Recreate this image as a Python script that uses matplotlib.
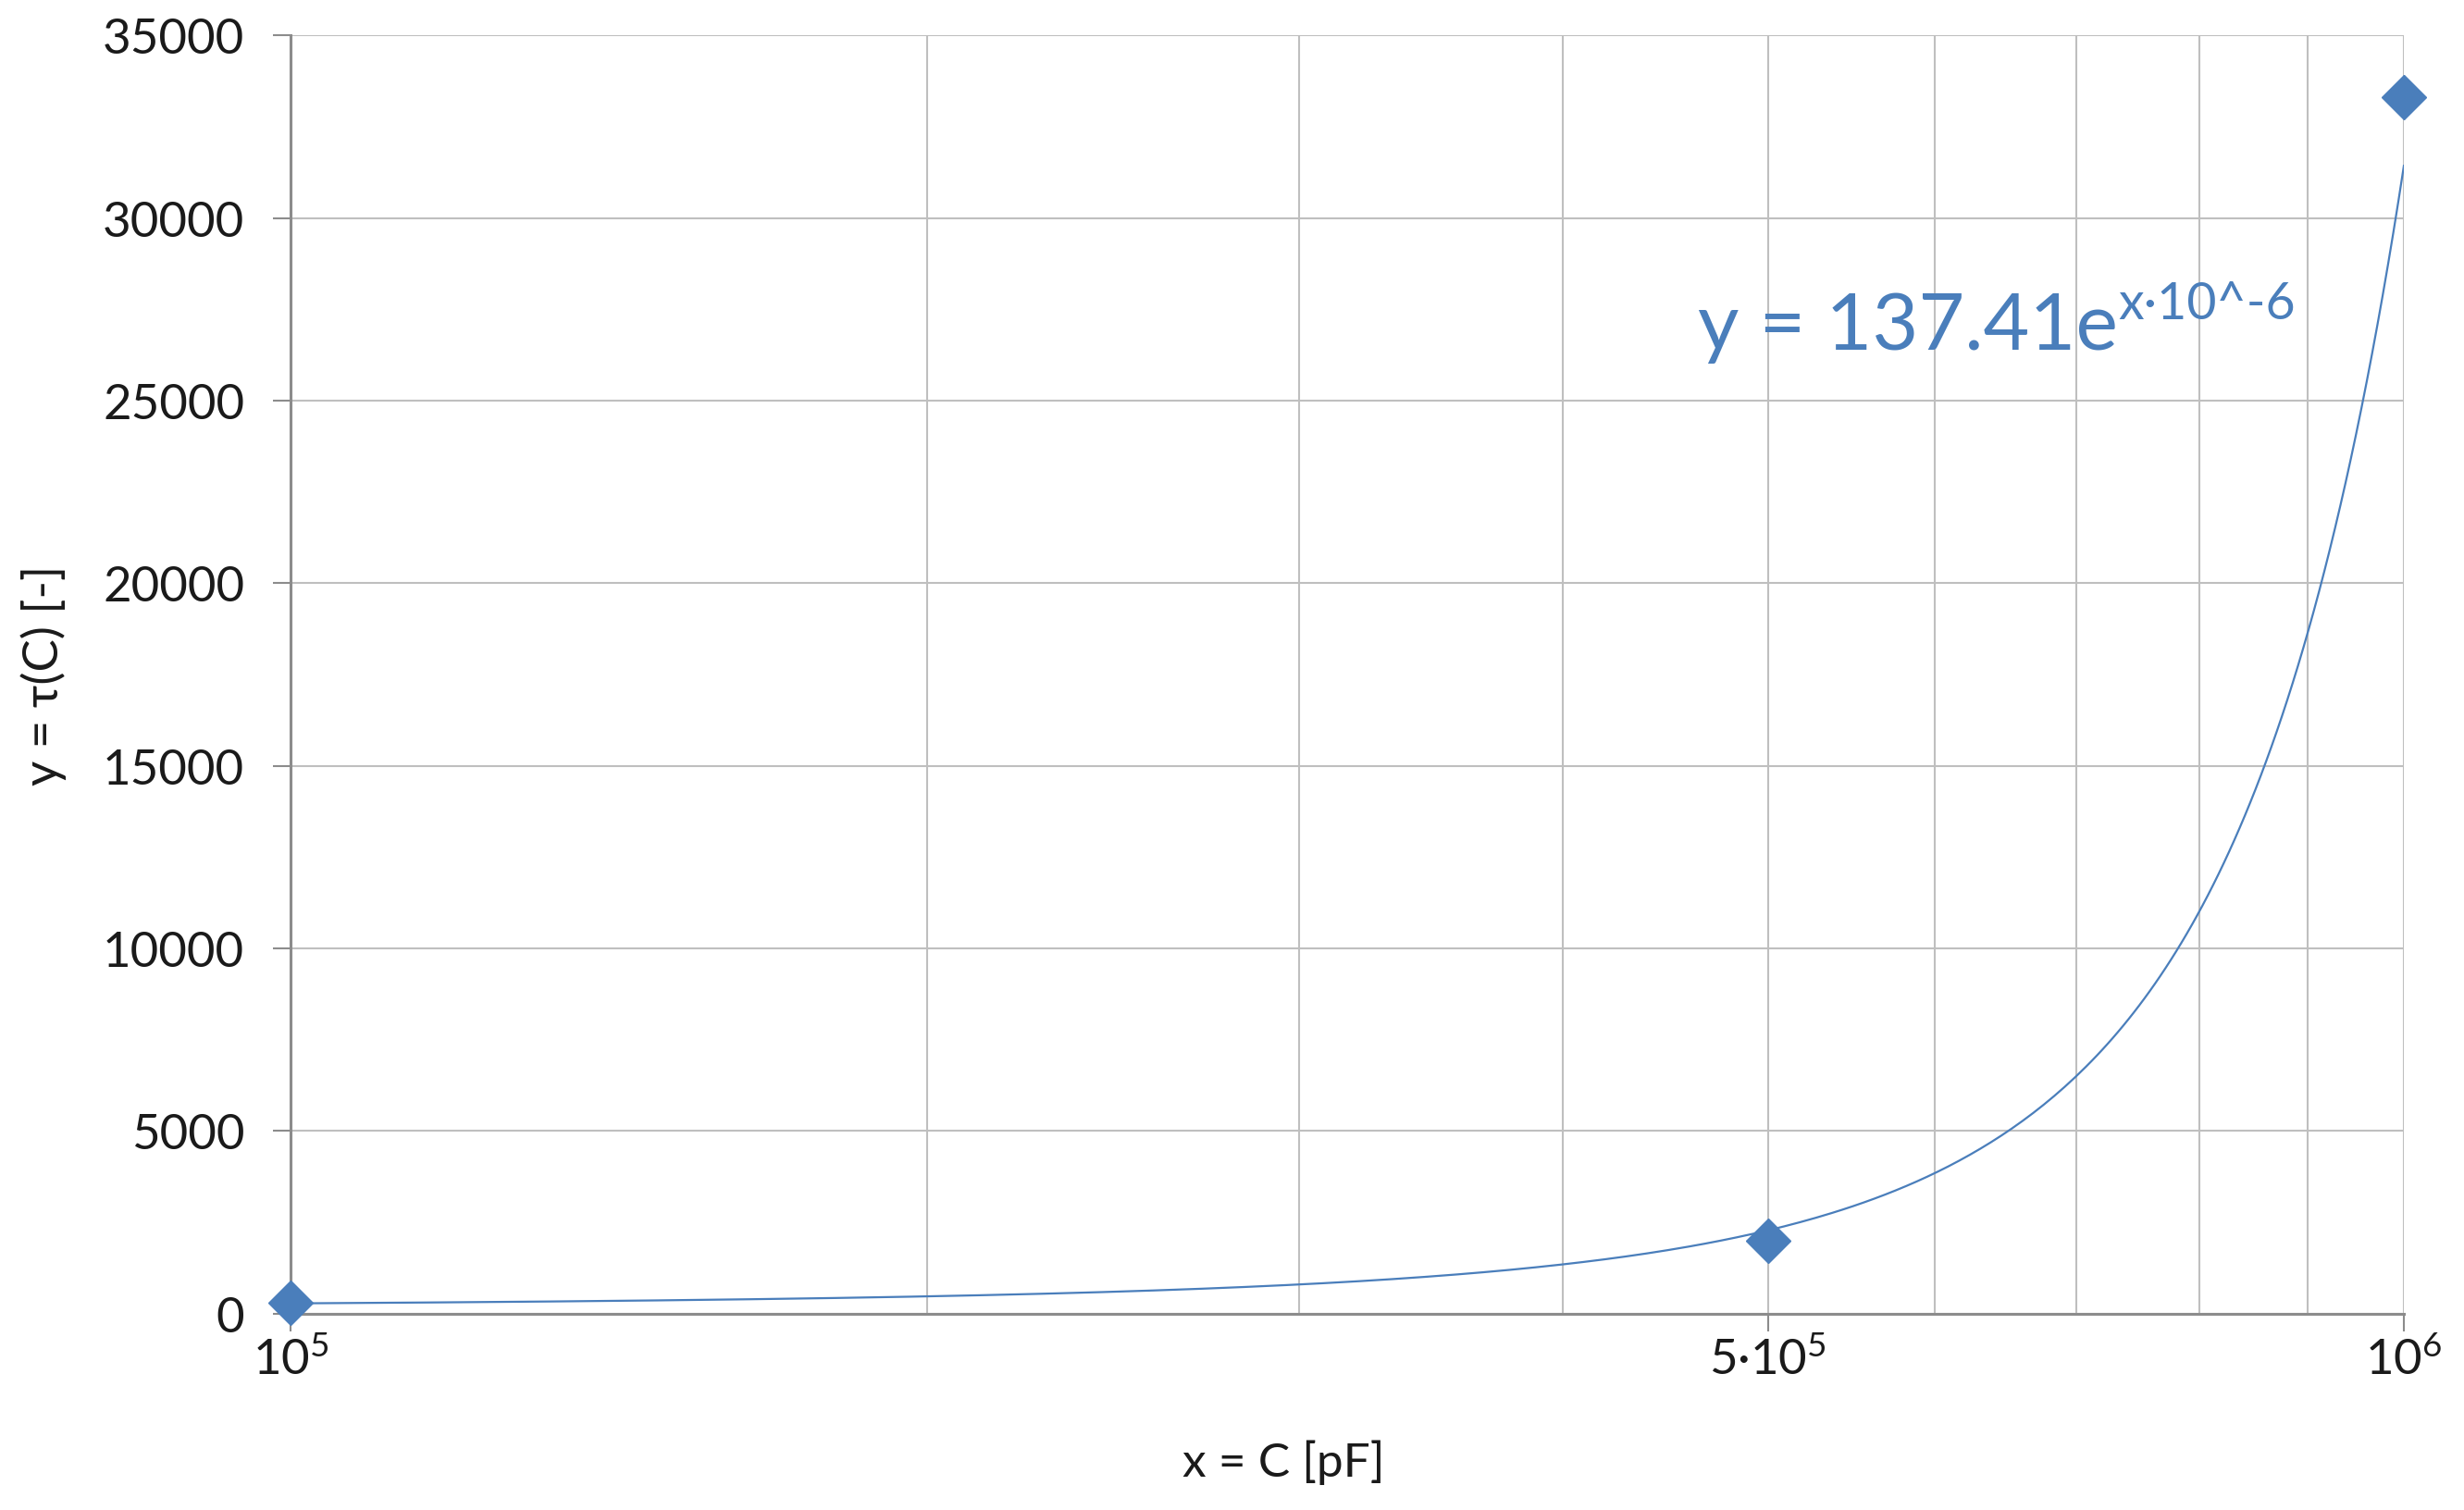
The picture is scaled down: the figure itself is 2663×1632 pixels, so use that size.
import numpy as np
import matplotlib
matplotlib.use("Agg")
import matplotlib.pyplot as plt
from matplotlib.ticker import FixedLocator, NullFormatter

# Messpunkte
kapazitaet = [1e5, 5e5, 1e6]        # x = C [pF]
tau = [300, 2000, 33300]            # y = tau(C)
y_ticks = [0, 5000, 10000, 15000, 20000, 25000, 30000, 35000]
x_major = [1e5, 5e5, 1e6]
x_major_labels = [r"$\mathregular{10^5}$", r"$\mathregular{5·10^5}$", r"$\mathregular{10^6}$"]
x_minor = [2e5, 3e5, 4e5, 6e5, 7e5, 8e5, 9e5]
gleichung = "y = 137.41e"
exponent = "x·10^-6"

blau = "#4A7EBB"

plt.rcParams["font.family"] = ["Lato", "DejaVu Sans"]
plt.rcParams["mathtext.fontset"] = "custom"
plt.rcParams["mathtext.rm"] = "Lato"

fig = plt.figure(figsize=(26.63, 16.33), dpi=100)
ax = fig.add_axes([0.118, 0.130, 0.8576, 0.846])

# exponentieller Trend (Fit auf ln y)
b, a = np.polyfit(kapazitaet, np.log(tau), 1)
xs = np.logspace(5, 6, 400)
ax.plot(xs, np.exp(a + b * xs), color=blau, lw=1.6, zorder=3)
ax.plot(kapazitaet, tau, linestyle="none", marker="D", ms=24, color=blau,
        zorder=4, clip_on=False)

ax.set_xscale("log")
ax.set_xlim(1e5, 1e6)
ax.set_ylim(0, 35000)
ax.xaxis.set_major_locator(FixedLocator(x_major))
ax.xaxis.set_minor_locator(FixedLocator(x_minor))
ax.set_xticklabels(x_major_labels)
ax.xaxis.set_minor_formatter(NullFormatter())
ax.set_yticks(y_ticks)
ax.set_yticklabels([str(v) for v in y_ticks])

ax.grid(True, which="both", color="#BFBFBF", lw=1.5)
ax.set_axisbelow(True)
for s in ["top", "right"]:
    ax.spines[s].set_visible(False)
for s in ["left", "bottom"]:
    ax.spines[s].set_color("#8C8C8C")
    ax.spines[s].set_linewidth(2.2)

ax.tick_params(axis="y", which="major", length=14, width=1.5, color="#8C8C8C",
               labelsize=38, pad=22, labelcolor="#1A1A1A")
ax.tick_params(axis="x", which="major", length=14, width=1.5, color="#8C8C8C",
               labelsize=38, pad=4, labelcolor="#1A1A1A")
ax.tick_params(axis="x", which="minor", length=0)

ax.set_xlabel("x = C [pF]", fontsize=37, color="#1A1A1A")
ax.set_ylabel("y = τ(C) [-]", fontsize=38, color="#1A1A1A")
ax.xaxis.set_label_coords(0.47, -0.098)
ax.yaxis.set_label_coords(-0.106, 0.5)

t = ax.text(0.666, 0.755, gleichung, transform=ax.transAxes, fontsize=62,
            color=blau, ha="left", va="baseline")
ax.annotate(exponent, xy=(1.0, 0.48), xycoords=t, fontsize=40, color=blau,
            ha="left", va="bottom")

fig.savefig("out.png", dpi=100)
